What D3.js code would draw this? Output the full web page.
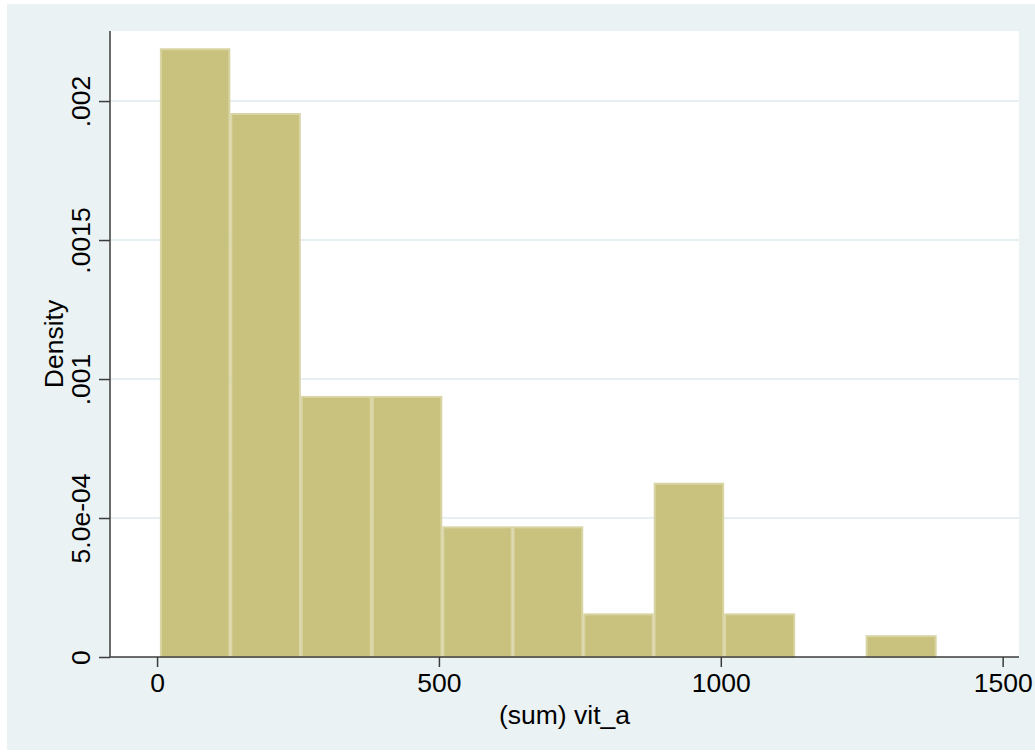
<!DOCTYPE html>
<html>
<head>
<meta charset="utf-8">
<script src="https://cdn.jsdelivr.net/npm/d3@7"></script>
<style>
  body { margin: 0; background: #fff; }
  svg text { font-family: "Liberation Sans", Arial, sans-serif; fill: #000; }
</style>
</head>
<body>
<svg id="svg1" width="1035" height="754"></svg>
<script>
// histogram bins of (sum) vit_a
var binLo   = [5, 130, 255, 381, 506, 631, 756, 881, 1006, 1257];
var binHi   = [130, 255, 381, 506, 631, 756, 881, 1006, 1132, 1383];
var density = [0.00219, 0.001957, 0.000939, 0.000939, 0.00047, 0.00047, 0.000157, 0.000627, 0.000157, 0.0000785];
var xTicks  = [0, 500, 1000, 1500];
var yTicks  = [0, 0.0005, 0.001, 0.0015, 0.002];
var yTickLabels = ["0", "5.0e-04", ".001", ".0015", ".002"];

var svg = d3.select("#svg1"),
    margin = {top: 31, right: 16, bottom: 97, left: 110},
    width = +svg.attr("width") - margin.left - margin.right,
    height = +svg.attr("height") - margin.top - margin.bottom;

// outer graph region
svg.append("rect")
    .attr("x", 7).attr("y", 4)
    .attr("width", 1028).attr("height", 746)
    .attr("fill", "#eaf2f3");

var g = svg.append("g")
    .attr("transform", "translate(" + margin.left + "," + margin.top + ")");

g.append("rect")
    .attr("width", width).attr("height", height)
    .attr("fill", "#fff");

var x = d3.scaleLinear().domain([-83.5, 1529]).range([0, width]);
var y = d3.scaleLinear().domain([0, 0.002252]).range([height, 0]);

// grid lines
g.selectAll(".grid")
    .data(yTicks.slice(1))
  .enter().append("line")
    .attr("class", "grid")
    .attr("x1", 0).attr("x2", width)
    .attr("y1", function(d) { return y(d); })
    .attr("y2", function(d) { return y(d); })
    .attr("stroke", "#e6eff1")
    .attr("stroke-width", 2);

// bars
g.selectAll(".bar")
    .data(density)
  .enter().append("rect")
    .attr("class", "bar")
    .attr("x", function(d, i) { return x(binLo[i]) + 1; })
    .attr("width", function(d, i) { return x(binHi[i]) - x(binLo[i]) - 2; })
    .attr("y", function(d) { return y(d) + 1; })
    .attr("height", function(d) { return height - y(d) - 1; })
    .attr("fill", "#c9c27e")
    .attr("stroke", "#d9d4a4")
    .attr("stroke-width", 2);

// axes
var xAxis = g.append("g")
    .attr("transform", "translate(0," + height + ")")
    .call(d3.axisBottom(x).tickValues(xTicks).tickSize(10).tickSizeOuter(0).tickPadding(6)
      .tickFormat(d3.format("d")));
xAxis.select(".domain").attr("stroke", "#3c3c3c").attr("stroke-width", 1.5)
    .attr("d", "M0,0H" + width);
xAxis.selectAll(".tick line").attr("stroke", "#3c3c3c").attr("stroke-width", 1.5);
xAxis.selectAll(".tick text").style("font-size", "26.5px").attr("fill", "#000")
    .style("font-family", "Liberation Sans, Arial, sans-serif");

var yAxis = g.append("g")
    .call(d3.axisLeft(y).tickValues(yTicks).tickSize(11).tickSizeOuter(0)
      .tickFormat(function(d, i) { return yTickLabels[i]; }));
yAxis.select(".domain").attr("stroke", "#3c3c3c").attr("stroke-width", 1.5)
    .attr("d", "M0," + height + "V0");
yAxis.selectAll(".tick line").attr("stroke", "#3c3c3c").attr("stroke-width", 1.5);
yAxis.selectAll(".tick text")
    .attr("x", null).attr("dy", null)
    .attr("transform", "translate(-20,0) rotate(-90)")
    .attr("text-anchor", "middle")
    .attr("fill", "#000")
    .style("font-size", "26.5px")
    .style("font-family", "Liberation Sans, Arial, sans-serif");

// axis titles
svg.append("text")
    .attr("x", margin.left + width / 2).attr("y", 724)
    .attr("text-anchor", "middle")
    .style("font-size", "26.5px")
    .text("(sum) vit_a");

svg.append("text")
    .attr("transform", "translate(63," + (margin.top + height / 2) + ") rotate(-90)")
    .attr("text-anchor", "middle")
    .style("font-size", "26.5px")
    .text("Density");
</script>
</body>
</html>
